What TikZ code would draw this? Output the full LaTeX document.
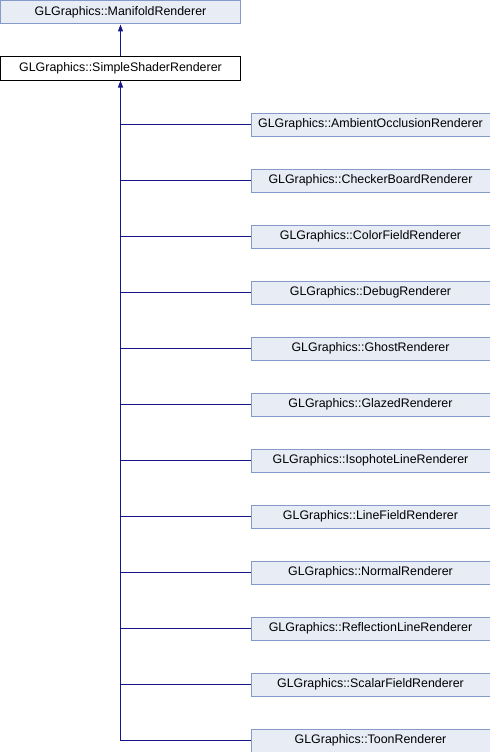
\documentclass[tikz,border=0pt]{standalone}
\usepackage{fontspec}
\setmainfont{Liberation Sans}
\usetikzlibrary{arrows.meta}
\definecolor{edgeblue}{RGB}{22,22,135}
\definecolor{boxfill}{RGB}{232,236,245}
\definecolor{boxline}{RGB}{132,155,201}
\tikzset{
  cls/.style={draw=boxline, fill=boxfill, line width=1bp, minimum width=239bp, minimum height=23bp, inner sep=0pt, font=\fontsize{12.4bp}{14bp}\selectfont, anchor=north west},
  cur/.style={cls, draw=black, fill=white},
  inh/.style={draw=edgeblue, line width=1.1bp},
  tip/.style={-{Triangle[length=7bp,width=5bp]}}
}
\begin{document}
\begin{tikzpicture}[x=1bp,y=-1bp]
\useasboundingbox (0,0) rectangle (490,752);
\node[cls] (base) at (0.5,0.5) {GLGraphics::ManifoldRenderer};
\node[cur] (simple) at (0.5,56.5) {GLGraphics::SimpleShaderRenderer};
\draw[inh,tip] (simple.north) -- (base.south);
\foreach \n/\t [count=\i from 0] in {
 c0/AmbientOcclusionRenderer, c1/CheckerBoardRenderer, c2/ColorFieldRenderer,
 c3/DebugRenderer, c4/GhostRenderer, c5/GlazedRenderer, c6/IsophoteLineRenderer,
 c7/LineFieldRenderer, c8/NormalRenderer, c9/ReflectionLineRenderer,
 c10/ScalarFieldRenderer, c11/ToonRenderer} {
  \node[cls] (\n) at (250.5,112.5+56*\i) {GLGraphics::\t};
}
\coordinate (bend) at (simple.south |- c11.west);
\draw[inh] (bend) -- (c11.west);
\draw[inh,tip] (bend) -- (simple.south);
\foreach \n in {c0,c1,c2,c3,c4,c5,c6,c7,c8,c9,c10} {
  \draw[inh] (simple.south |- \n.west) -- (\n.west);
}
\end{tikzpicture}
\end{document}
